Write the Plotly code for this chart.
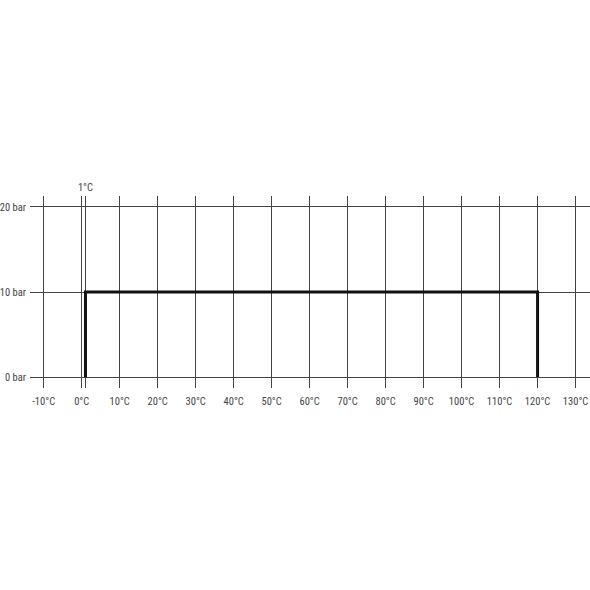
import plotly.graph_objects as go

# Data
temps_c = [1, 1, 120, 120]
pressure_bar = [0, 10, 10, 0]
x_ticks = [-10, 0, 10, 20, 30, 40, 50, 60, 70, 80, 90, 100, 110, 120, 130]
x_labels = [f"{t}°C" for t in x_ticks]
y_ticks = [0, 10, 20]
y_labels = [f"{p} bar" for p in y_ticks]
marker_temp = [1]
marker_label = ["1°C"]

family = "Roboto Condensed, Liberation Sans Narrow, Roboto, sans-serif"
font = dict(family=family, size=10.5, color="#444")
grid = "#444"

fig = go.Figure()
fig.add_trace(go.Scatter(x=temps_c, y=pressure_bar, mode="lines",
                         line=dict(color="#111", width=3), showlegend=False,
                         hoverinfo="skip"))
# invisible trace for top axis
fig.add_trace(go.Scatter(x=marker_temp, y=[0], xaxis="x2", mode="markers",
                         marker=dict(opacity=0), showlegend=False, hoverinfo="skip"))

xr = [-13.6, 133.8]
fig.update_layout(
    width=590, height=590,
    margin=dict(l=30, r=0, t=196, b=202),
    paper_bgcolor="white", plot_bgcolor="white",
    font=font,
    xaxis=dict(range=xr, tickvals=x_ticks, ticktext=x_labels, showgrid=True,
               gridcolor=grid, gridwidth=1, zeroline=False, showline=False,
               ticks="", ticklabelstandoff=5, tickfont=font, automargin=False),
    xaxis2=dict(range=xr, overlaying="x", side="top", tickvals=marker_temp,
                ticktext=marker_label, showgrid=True, gridcolor=grid, gridwidth=1,
                zeroline=False, showline=False, ticks="", ticklabelstandoff=2,
                tickfont=font, automargin=False),
    yaxis=dict(range=[-1.29, 21.29], tickvals=y_ticks, ticktext=y_labels,
               showgrid=True, gridcolor=grid, gridwidth=1, zeroline=False,
               showline=False, ticks="", ticklabelstandoff=3, tickfont=font,
               automargin=False),
)
fig.write_html("out.html", config={"displayModeBar": False},
               post_script="document.body.style.margin='0px';")
